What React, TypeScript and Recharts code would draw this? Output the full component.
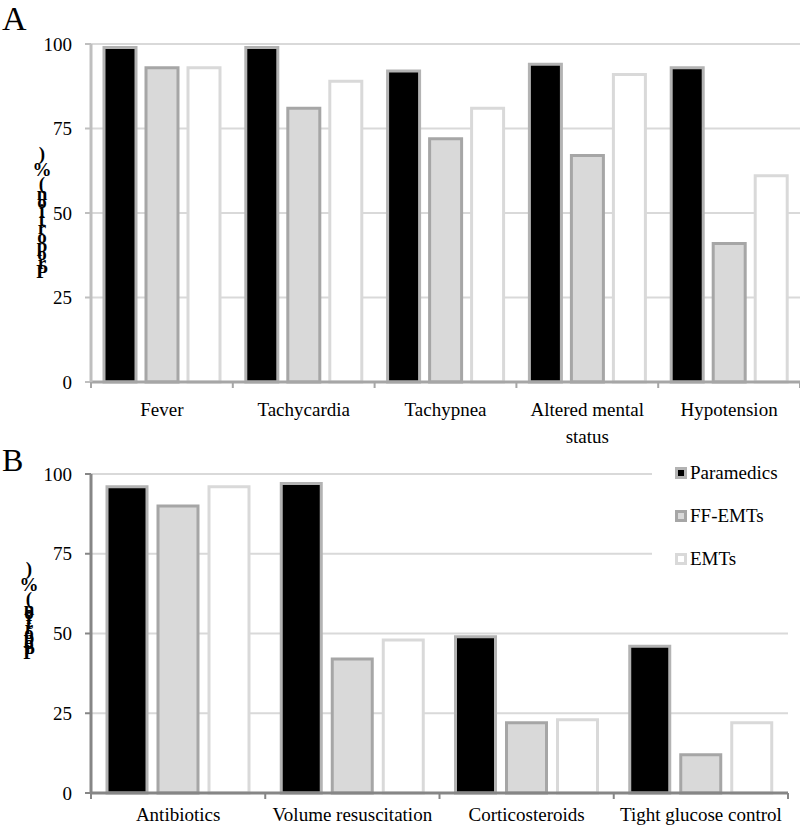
import React from 'react';
import { BarChart, Bar, XAxis, YAxis, CartesianGrid, Legend, Text } from 'recharts';

const SERIES = ['Paramedics', 'FF-EMTs', 'EMTs'];
const Y_TICKS = [0, 25, 50, 75, 100];

// panel A: clinical signs
const SIGNS = ['Fever', 'Tachycardia', 'Tachypnea', 'Altered mental status', 'Hypotension'];
const SIGNS_PARAMEDICS = [99, 99, 92, 94, 93];
const SIGNS_FF_EMTS = [93, 81, 72, 67, 41];
const SIGNS_EMTS = [93, 89, 81, 91, 61];

// panel B: therapies
const THERAPIES = ['Antibiotics', 'Volume resuscitation', 'Corticosteroids', 'Tight glucose control'];
const THERAPY_PARAMEDICS = [96, 97, 49, 46];
const THERAPY_FF_EMTS = [90, 42, 22, 12];
const THERAPY_EMTS = [96, 48, 23, 22];

const FONT = '"Liberation Serif", "Times New Roman", serif';

const BAR_STYLE: Record<string, { fill: string; stroke: string }> = {
  Paramedics: { fill: '#000000', stroke: '#b3b3b3' },
  'FF-EMTs': { fill: '#d9d9d9', stroke: '#a6a6a6' },
  EMTs: { fill: '#ffffff', stroke: '#d9d9d9' },
};

const toRows = (cats: string[], a: number[], b: number[], c: number[]) =>
  cats.map((name, i) => ({ name, Paramedics: a[i], 'FF-EMTs': b[i], EMTs: c[i] }));

const signsData = toRows(SIGNS, SIGNS_PARAMEDICS, SIGNS_FF_EMTS, SIGNS_EMTS);
const therapyData = toRows(THERAPIES, THERAPY_PARAMEDICS, THERAPY_FF_EMTS, THERAPY_EMTS);

function categoryTick(band: number, drop: number, wrap: number, color: string, count: number) {
  return (props: any) => {
    const { x, y, payload, index } = props;
    const axisY = y - drop;
    return (
      <g>
        <line x1={x - band / 2} x2={x - band / 2} y1={axisY} y2={axisY + 6} stroke={color} strokeWidth={2} />
        {index === count - 1 && (
          <line x1={x + band / 2} x2={x + band / 2} y1={axisY} y2={axisY + 6} stroke={color} strokeWidth={2} />
        )}
        <Text
          x={x}
          y={y}
          width={wrap}
          textAnchor="middle"
          verticalAnchor="start"
          lineHeight={27}
          fill="#000"
          style={{ fontFamily: FONT, fontSize: 19 }}
        >
          {payload.value}
        </Text>
      </g>
    );
  };
}

// y caption is drawn the way the original figure shows it: glyphs stacked, bottom to top
function caption(letter: string, letterSize: number, letterY: number, cx: number, top: number, step: number) {
  return () => {
    const chars = 'Proportion(%)'.split('').reverse();
    const gaps: Record<string, number> = { '%': 16, '(': 14, n: 10 };
    let y = top;
    const ys = chars.map((c, i) => {
      if (i > 0) y += gaps[c] ?? step;
      return y;
    });
    return (
      <g>
        <text x={2} y={letterY} fontFamily={FONT} fontSize={letterSize} fill="#000">{letter}</text>
        <text textAnchor="middle" fontFamily={FONT} fontSize={19} fontWeight="bold" fill="#000">
          {chars.map((c, i) => (
            <tspan key={i} x={cx} y={ys[i] + 6.5}>{c}</tspan>
          ))}
        </text>
      </g>
    );
  };
}

function LegendBox(props: any) {
  const { payload = [] } = props;
  const entries = SERIES.map(k => payload.find((p: any) => p.value === k)).filter(Boolean);
  return (
    <div style={{ paddingLeft: 23 }}>
      {entries.map((entry: any) => {
        const s = BAR_STYLE[entry.value];
        return (
          <div key={entry.value} style={{ display: 'flex', alignItems: 'center', height: 43 }}>
            <span style={{ flexShrink: 0, width: 6, height: 6, background: s.fill, border: `3px solid ${s.stroke}`, marginRight: 3 }} />
            <span style={{ fontFamily: FONT, fontSize: 19, color: '#000', lineHeight: 1 }}>{entry.value}</span>
          </div>
        );
      })}
    </div>
  );
}

const yTick = { fill: '#000', fontSize: 19, fontFamily: FONT };

export default function App() {
  const bandA = (800 - 91) / SIGNS.length;
  const bandB = (800 - 91 - 12) / THERAPIES.length;
  return (
    <div style={{ position: 'absolute', left: 0, top: 0, width: 800, height: 833, background: '#fff', fontFamily: FONT }}>
      <div style={{ position: 'absolute', left: 0, top: 0 }}>
        <BarChart width={800} height={450} data={signsData} barGap={10} margin={{ top: 44, right: 0, left: 0, bottom: 38 }}>
          <CartesianGrid vertical={false} stroke="#d9d9d9" strokeWidth={2} />
          {SERIES.map(k => (
            <Bar key={k} dataKey={k} name={k} barSize={32} fill={BAR_STYLE[k].fill} stroke={BAR_STYLE[k].stroke} strokeWidth={3} isAnimationActive={false} />
          ))}
          <XAxis
            dataKey="name"
            height={30}
            interval={0}
            tickSize={0}
            tickMargin={21}
            tickLine={false}
            axisLine={{ stroke: '#a6a6a6', strokeWidth: 3 }}
            tick={categoryTick(bandA, 21, 135, '#a6a6a6', SIGNS.length)}
          />
          <YAxis
            width={91}
            domain={[0, 100]}
            ticks={Y_TICKS}
            interval={0}
            tickSize={6}
            tickMargin={13}
            tick={yTick}
            axisLine={{ stroke: '#bfbfbf', strokeWidth: 3 }}
            tickLine={{ stroke: '#bfbfbf', strokeWidth: 2 }}
            label={caption('A', 34, 30, 42, 153, 8.7)}
          />
        </BarChart>
      </div>
      <div style={{ position: 'absolute', left: 0, top: 430 }}>
        <BarChart width={800} height={403} data={therapyData} barGap={11} margin={{ top: 44, right: 12, left: 0, bottom: 10 }}>
          <CartesianGrid vertical={false} stroke="#d9d9d9" strokeWidth={2} />
          {SERIES.map(k => (
            <Bar key={k} dataKey={k} name={k} barSize={40} fill={BAR_STYLE[k].fill} stroke={BAR_STYLE[k].stroke} strokeWidth={3} isAnimationActive={false} />
          ))}
          <XAxis
            dataKey="name"
            height={30}
            interval={0}
            tickSize={0}
            tickMargin={15}
            tickLine={false}
            axisLine={{ stroke: '#868686', strokeWidth: 3 }}
            tick={categoryTick(bandB, 15, 220, '#868686', THERAPIES.length)}
          />
          <YAxis
            width={91}
            domain={[0, 100]}
            ticks={Y_TICKS}
            interval={0}
            tickSize={6}
            tickMargin={13}
            tick={yTick}
            axisLine={{ stroke: '#868686', strokeWidth: 3 }}
            tickLine={{ stroke: '#868686', strokeWidth: 2 }}
            label={caption('B', 32, 41, 29, 138, 4.9)}
          />
          <Legend
            layout="vertical"
            align="center"
            verticalAlign="middle"
            wrapperStyle={{ left: 652, top: 21, width: 148, backgroundColor: '#fff' }}
            content={LegendBox}
          />
        </BarChart>
      </div>
    </div>
  );
}
